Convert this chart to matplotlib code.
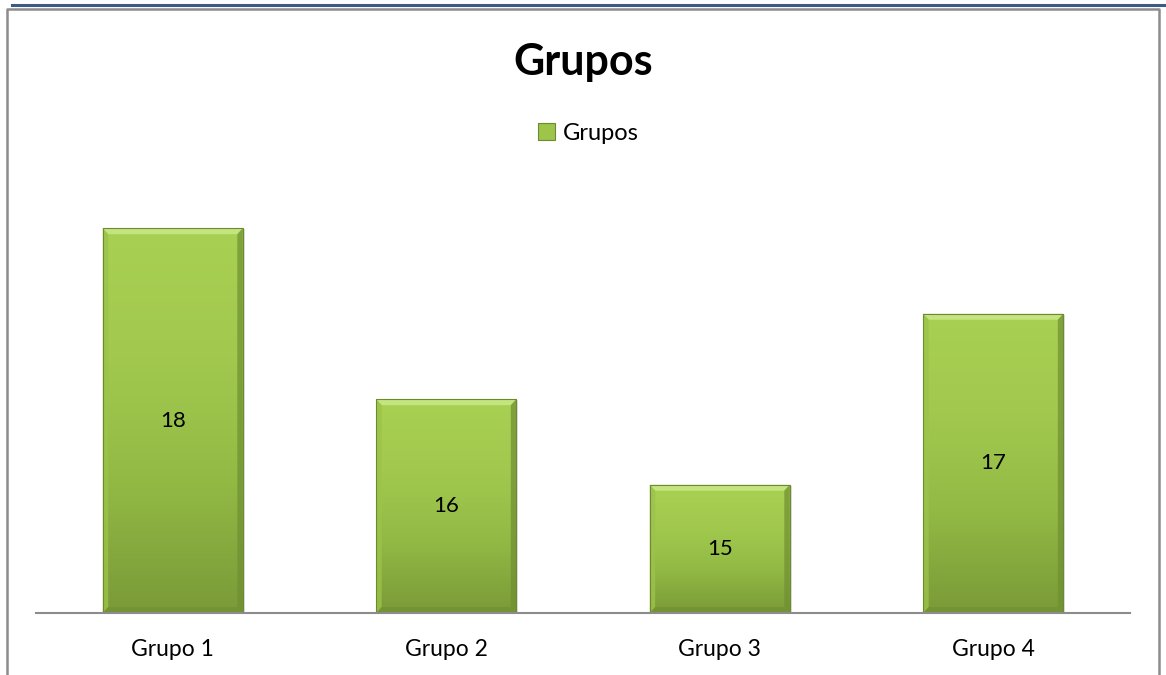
import numpy as np
import matplotlib.pyplot as plt
from matplotlib.patches import Rectangle, Polygon
from matplotlib.colors import LinearSegmentedColormap
from matplotlib.lines import Line2D

categories = ["Grupo 1", "Grupo 2", "Grupo 3", "Grupo 4"]
values = [18, 16, 15, 17]
series_name = "Grupos"

plt.rcParams['font.family'] = ['Lato', 'DejaVu Sans']

W, H = 1166, 675
fig = plt.figure(figsize=(W / 100, H / 100), dpi=100)

# outer frame and top blue rule
fig.add_artist(Line2D([12 / W, 1], [1 - 5 / H, 1 - 5 / H], color="#3b5a86", lw=2.2))
fig.add_artist(Line2D([7 / W, 7 / W, 1159 / W, 1159 / W], [0, 1 - 9 / H, 1 - 9 / H, 0],
                      color="#8c8c8c", lw=1.8))

ax = fig.add_axes([36 / W, (H - 613) / H, (1130 - 36) / W, (613 - 185.5) / H])
ax.set_xlim(-0.5, len(categories) - 0.5)
ax.set_ylim(13.5, 18.5)

green = LinearSegmentedColormap.from_list("g", ["#7a9a38", "#92b944", "#a2c94e", "#a8d052"])
grad = np.linspace(0, 1, 256).reshape(-1, 1)
bw = 0.512

for i, v in enumerate(values):
    x0, x1 = i - bw / 2, i + bw / 2
    y0 = 13.5
    # soft shadow
    ax.add_patch(Rectangle((x0 + 0.008, y0), bw, v - y0 - 0.01, color="#c8c8c8",
                           alpha=0.6, lw=0, zorder=1))
    rect = Rectangle((x0, y0), bw, v - y0, fc="none", ec="#6d8a33", lw=0.8, zorder=4)
    ax.add_patch(rect)
    im = ax.imshow(grad, extent=[x0, x1, y0, v], origin="lower", cmap=green,
                   aspect="auto", zorder=2, vmin=0, vmax=1)
    im.set_clip_path(rect)
    # bevel edges
    dx = 0.02
    dy = 0.07
    ax.add_patch(Polygon([[x0, v], [x1, v], [x1 - dx, v - dy], [x0 + dx, v - dy]],
                         fc="#c4e480", lw=0, zorder=3))
    ax.add_patch(Polygon([[x0, y0], [x0, v], [x0 + dx, v - dy], [x0 + dx, y0 + dy]],
                         fc="#9cc34a", alpha=0.8, lw=0, zorder=3))
    ax.add_patch(Polygon([[x1, y0], [x1, v], [x1 - dx, v - dy], [x1 - dx, y0 + dy]],
                         fc="#6f8f32", alpha=0.7, lw=0, zorder=3))
    ax.add_patch(Polygon([[x0, y0], [x1, y0], [x1 - dx, y0 + dy], [x0 + dx, y0 + dy]],
                         fc="#6f8f32", alpha=0.6, lw=0, zorder=3))
    ax.text(i, (v + y0) / 2, str(v), ha="center", va="center", fontsize=16,
            color="black", zorder=5)

ax.set_xticks(range(len(categories)))
ax.set_xticklabels(categories, fontsize=16.5)
ax.tick_params(axis="x", length=0, pad=19)
ax.set_yticks([])
for s in ["top", "right", "left"]:
    ax.spines[s].set_visible(False)
ax.spines["bottom"].set_color("#8c8c8c")
ax.spines["bottom"].set_linewidth(1.5)
ax.spines["bottom"].set_zorder(6)

fig.text(583 / W, 1 - 62 / H, "Grupos", ha="center", va="center", fontsize=31,
         fontweight="bold")
handle = Rectangle((0, 0), 1, 1, fc="#9cc54a", ec="#6d8a33", lw=0.8)
fig.legend([handle], [series_name], loc="center", bbox_to_anchor=(588 / W, 1 - 133 / H),
           frameon=False, fontsize=17, handlelength=0.75, handleheight=0.75,
           handletextpad=0.3)

fig.savefig("out.png", dpi=100)
